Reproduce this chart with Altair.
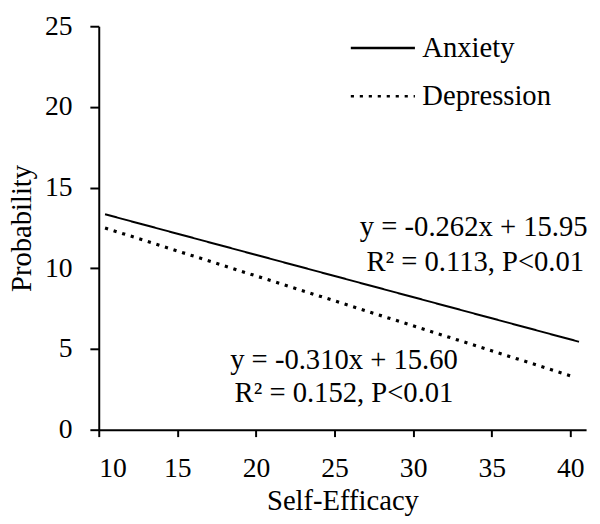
import altair as alt
import pandas as pd

# Regression lines (end points)
series = ["Anxiety", "Anxiety", "Depression", "Depression"]
efficacy = [10.4, 40.55, 10.4, 40.3]
probability = [13.35, 5.45, 12.5, 3.25]

# Annotation text blocks
ann_text = ["y = -0.262x + 15.95", "R\u00b2 = 0.113, P<0.01",
            "y = -0.310x + 15.60", "R\u00b2 = 0.152, P<0.01"]
ann_x = [33.85, 33.95, 25.6, 25.6]
ann_y = [12.53, 10.39, 4.30, 2.28]

x_ticks = [10, 15, 20, 25, 30, 35, 40]
y_ticks = [0, 5, 10, 15, 20, 25]

FONT = "Liberation Serif"

lines_df = pd.DataFrame({"series": series, "x": efficacy, "y": probability})
ann_df = pd.DataFrame({"text": ann_text, "x": ann_x, "y": ann_y})

xs = alt.Scale(domain=[10, 41], nice=False, zero=False)
ys = alt.Scale(domain=[0, 25], nice=False)
dash_scale = alt.Scale(domain=["Anxiety", "Depression"], range=[[1, 0], [3.2, 5.9]])

x_enc = alt.X("x:Q", scale=xs, title="Self-Efficacy",
              axis=alt.Axis(values=x_ticks, format="d", tickSize=7,
                            labelPadding=18, titlePadding=5))
y_enc = alt.Y("y:Q", scale=ys, title="Probability",
              axis=alt.Axis(values=y_ticks, format="d", tickSize=9,
                            labelPadding=18, titlePadding=8))
legend = alt.Legend(title=None, orient="none", legendX=254, legendY=-12,
                    symbolType="stroke", symbolSize=4225,
                    symbolStrokeWidth=2.5, symbolStrokeColor="black",
                    labelFont=FONT, labelFontSize=29, labelColor="black",
                    labelOffset=6, rowPadding=-1, padding=0)

anx = alt.Chart(lines_df).transform_filter(alt.datum.series == "Anxiety").mark_line(
    color="black", strokeWidth=2).encode(
    x=x_enc, y=y_enc,
    strokeDash=alt.StrokeDash("series:N", scale=dash_scale, legend=legend),
)
dep = alt.Chart(lines_df).transform_filter(alt.datum.series == "Depression").mark_line(
    color="black", strokeWidth=3.2).encode(
    x=x_enc, y=y_enc,
    strokeDash=alt.StrokeDash("series:N", scale=dash_scale, legend=legend),
)

ann = alt.Chart(ann_df).mark_text(font=FONT, fontSize=29, color="black",
                                  align="center", baseline="middle").encode(
    x=alt.X("x:Q", scale=xs),
    y=alt.Y("y:Q", scale=ys),
    text="text:N",
)

chart = alt.layer(anx, dep, ann).properties(
    width=494, height=409,
    autosize=alt.AutoSizeParams(type="none"),
    padding={"left": 92, "top": 15, "right": 6, "bottom": 84},
).configure_view(stroke=None).configure_axis(
    domainColor="black", domainWidth=2, tickColor="black", tickWidth=2,
    grid=False, labelFont=FONT, labelFontSize=28, labelColor="black",
    titleFont=FONT, titleFontSize=29, titleColor="black", titleFontWeight="normal",
).configure_axisY(titleAngle=-90)

chart.save("out.html", embed_options={"renderer": "svg", "actions": False})
